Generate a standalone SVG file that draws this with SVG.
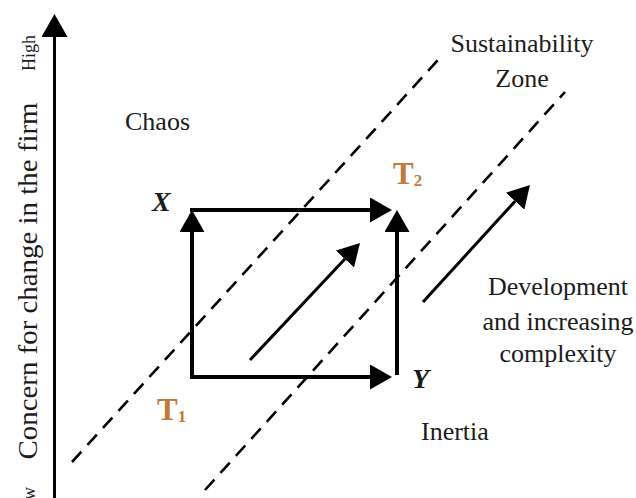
<svg xmlns="http://www.w3.org/2000/svg" width="636" height="498" viewBox="0 0 636 498">
<style>
.t{font-family:"Liberation Serif","Times New Roman",serif;fill:#1c1c1c}
.lbl{font-size:26px}
.dash{stroke:#000;stroke-width:2.6;stroke-dasharray:14 9;fill:none}
.box{stroke:#000;stroke-width:4;fill:none}
.diag{stroke:#000;stroke-width:3;fill:none}
.tc{font-family:"Liberation Serif","Times New Roman",serif;fill:#c27a3c;font-weight:bold}
</style>
<defs>
<marker id="head" markerUnits="userSpaceOnUse" markerWidth="22" markerHeight="25" refX="0" refY="12.5" orient="auto">
<path d="M0,0 L22,12.5 L0,25 z" fill="#000"/>
</marker>
<marker id="head2" markerUnits="userSpaceOnUse" markerWidth="23" markerHeight="26" refX="0" refY="13" orient="auto">
<path d="M0,0 L23,13 L0,26 z" fill="#000"/>
</marker>
</defs>
<rect width="636" height="498" fill="#fff"/>
<g id="axis">
<line x1="54.5" y1="498" x2="54.5" y2="37" stroke="#000" stroke-width="3" marker-end="url(#head2)"/>
<text class="t" font-size="18" text-anchor="middle" transform="translate(35,53) rotate(-90)">High</text>
<text class="t" font-size="18" text-anchor="end" transform="translate(35,487) rotate(-90)">Low</text>
<text class="t" font-size="28" text-anchor="middle" textLength="357" lengthAdjust="spacingAndGlyphs" transform="translate(37,281) rotate(-90)">Concern for change in the firm</text>
</g>
<g id="zone">
<line class="dash" x1="72" y1="462" x2="438" y2="60"/>
<line class="dash" x1="205" y1="490" x2="565" y2="92"/>
<text class="t lbl" x="522" y="52" text-anchor="middle">Sustainability</text>
<text class="t lbl" x="522" y="87" text-anchor="middle">Zone</text>
</g>
<g id="connectors">
<line class="box" x1="192" y1="379" x2="192" y2="232" marker-end="url(#head)"/>
<line class="box" x1="190" y1="210" x2="370" y2="210" marker-end="url(#head)"/>
<line class="box" x1="190" y1="377" x2="370" y2="377" marker-end="url(#head)"/>
<line class="box" x1="397" y1="375" x2="397" y2="232" marker-end="url(#head)"/>
<line class="diag" x1="250" y1="360" x2="344.9" y2="259" marker-end="url(#head)"/>
<line class="diag" x1="423" y1="302" x2="515.1" y2="201.2" marker-end="url(#head)"/>
</g>
<g id="chaos"><text class="t lbl" x="125" y="130">Chaos</text></g>
<g id="inertia"><text class="t lbl" x="421" y="440">Inertia</text></g>
<g id="nodeX"><text class="t" x="152" y="211" font-size="28" font-style="italic" font-weight="bold">X</text></g>
<g id="nodeY"><text class="t" x="412" y="388" font-size="28" font-style="italic" font-weight="bold">Y</text></g>
<g id="T1"><text class="tc" x="157" y="420" font-size="31">T<tspan font-size="17" dy="2">1</tspan></text></g>
<g id="T2"><text class="tc" x="393" y="184" font-size="31">T<tspan font-size="17" dy="2">2</tspan></text></g>
<g id="development">
<text class="t lbl" x="558" y="295" text-anchor="middle">Development</text>
<text class="t lbl" x="558" y="330" text-anchor="middle">and increasing</text>
<text class="t lbl" x="558" y="362" text-anchor="middle">complexity</text>
</g>
</svg>
